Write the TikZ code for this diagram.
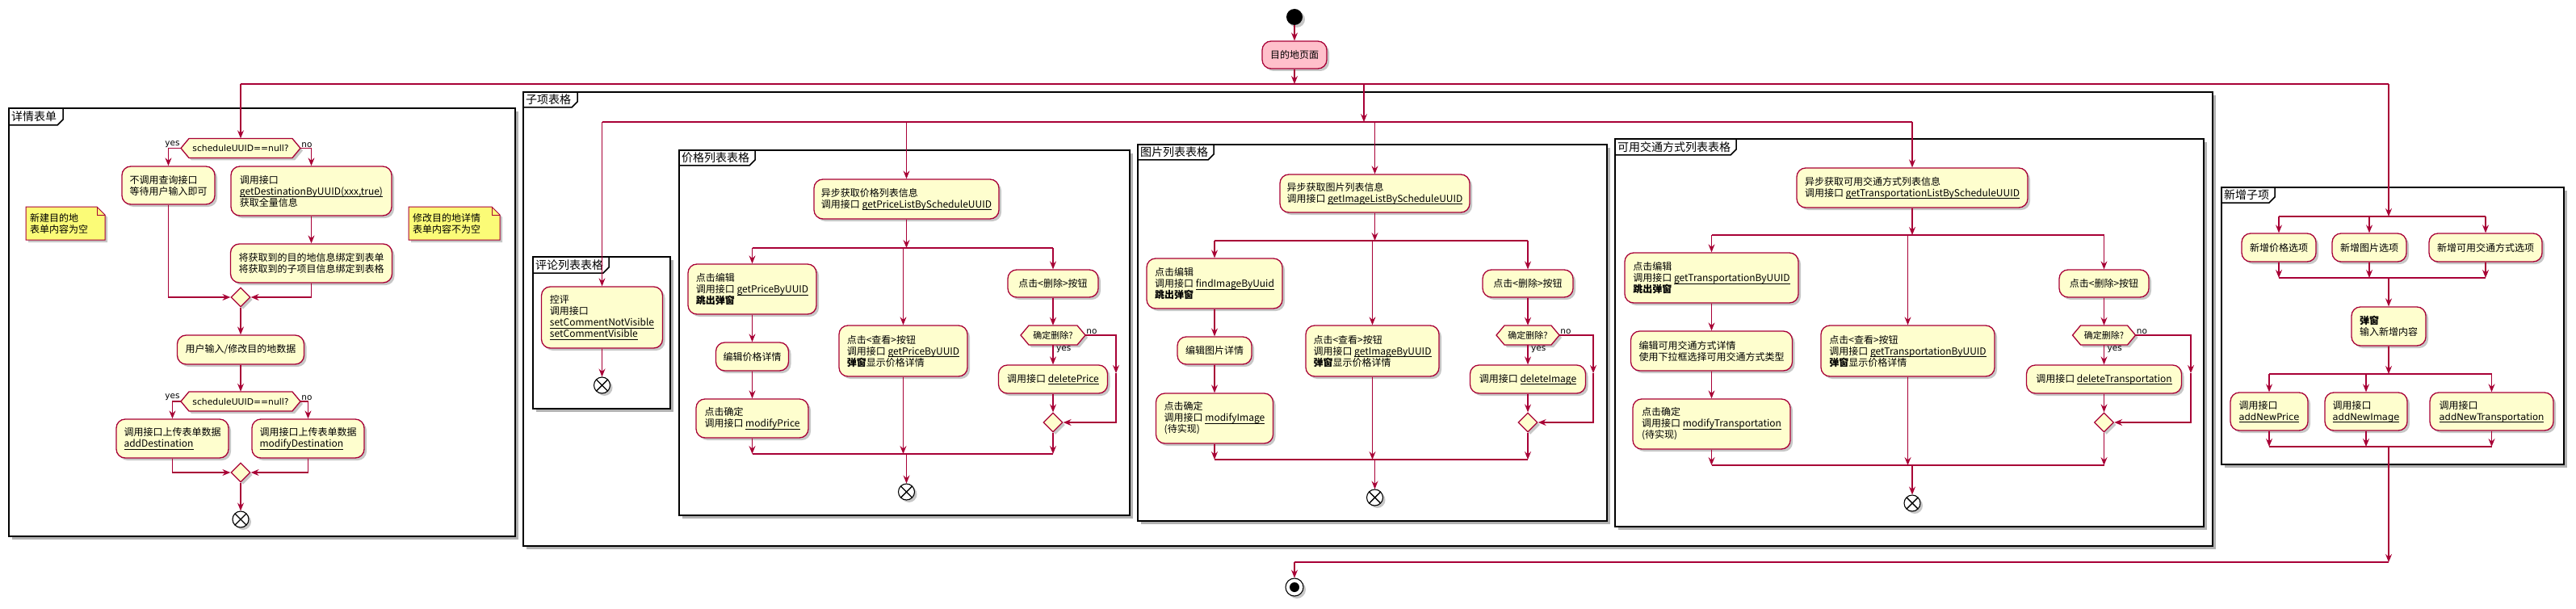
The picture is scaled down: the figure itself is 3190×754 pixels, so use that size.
\documentclass[tikz,border=0pt]{standalone}
\usepackage{fontspec}
\setmainfont{Noto Sans CJK SC}
\newfontfamily\dejavu{DejaVu Sans}
\usetikzlibrary{shapes.geometric,arrows.meta,shadows}
\definecolor{crim}{HTML}{A80036}
\definecolor{boxy}{HTML}{FEFECE}
\definecolor{pinkc}{HTML}{FFC0CB}
\definecolor{notey}{HTML}{FBFB77}
\newsavebox\udlbox
\newcommand\udl[1]{\sbox\udlbox{#1}\rlap{\rule[-3pt]{\wd\udlbox}{0.9pt}}\usebox\udlbox}
\newcommand\djv[1]{{\dejavu\fontsize{11.5}{14}\selectfont #1}}
\tikzset{
 shad/.style={drop shadow={shadow xshift=3pt,shadow yshift=-3pt,opacity=0.22,fill=black}},
 act/.style={draw=crim, fill=boxy, line width=1.3pt, rounded corners=11pt, align=left, inner sep=4pt, font=\fontsize{12}{14}\selectfont, shad},
 decshape/.style={draw=crim, fill=boxy, line width=1.3pt, shad},
 dectext/.style={inner sep=0pt, font=\fontsize{11}{13}\selectfont},
 mergeshape/.style={diamond, draw=crim, fill=boxy, line width=1.3pt, minimum width=24pt, minimum height=24pt, inner sep=0pt, shad},
 endx/.style={circle, draw=black, fill=white, line width=1.1pt, minimum size=20pt, inner sep=0pt, shad,
   path picture={\draw[line width=1.4pt] (path picture bounding box.north west) -- (path picture bounding box.south east) (path picture bounding box.north east) -- (path picture bounding box.south west);}},
 startc/.style={circle, fill=black, minimum size=20pt, inner sep=0pt, shad},
 finalc/.style={circle, draw=black, fill=white, line width=1.1pt, minimum size=22pt, inner sep=0pt, shad,
   path picture={\fill[black] (path picture bounding box.center) circle[radius=6pt];}},
 arr/.style={draw=crim, line width=1.2pt, -{Stealth[length=10pt,width=8pt,inset=3.5pt]}},
 flow/.style={draw=crim, line width=1.2pt},
 lbl/.style={font=\dejavu\fontsize{10.5}{12}\selectfont, inner sep=1pt},
 frameline/.style={draw=black, line width=1.5pt},
 framelabel/.style={font=\fontsize{14}{16}\selectfont, inner sep=0pt},
 noteshape/.style={draw=crim, fill=notey, line width=1pt, shad},
 notetext/.style={font=\fontsize{12}{14}\selectfont, align=left, inner sep=0pt}
}
\newcommand\actbox[6]{\node[act, minimum width=#4pt, minimum height=#5pt] (#1) at (#2,#3) {#6};}
\newcommand\decn[5]{%
 \draw[decshape] ({#2-#4},#3) -- ({#2-#4+10},{#3-12}) -- ({#2+#4-10},{#3-12}) -- ({#2+#4},#3) -- ({#2+#4-10},{#3+12}) -- ({#2-#4+10},{#3+12}) -- cycle;
 \node[dectext, minimum width={2*#4pt}, minimum height=24pt] (#1) at (#2,#3) {#5};}
\newcommand\frm[8]{%
 \fill[black!30] ({#2+4},{#3+4}) rectangle ({#4+4},{#5+4});
 \draw[frameline, fill=white] (#2,#3) rectangle (#4,#5);
 \draw[frameline] (#2,#7) -- ({#6-7},#7) -- (#6,{#7-7}) -- (#6,#3);
 \node[framelabel, anchor=west] (#1) at ({#2+3},{(#3+#7)/2}) {#8};}
\newcommand\notebox[6]{%
 \draw[noteshape] (#2,#3) -- ({#4-10},#3) -- (#4,{#3+10}) -- (#4,#5) -- (#2,#5) -- cycle;
 \draw[crim, line width=1pt] ({#4-10},#3) -- ({#4-10},{#3+10}) -- (#4,{#3+10});
 \node[notetext, anchor=west] (#1) at ({#2+5},{(#3+#5)/2}) {#6};}
\begin{document}
\begin{tikzpicture}[x=1pt,y=-1pt]
\useasboundingbox (0,0) rectangle (3190,754);
\fill[white] (0,0) rectangle (3190,754);
% ---------- frames ----------
\frm{fdet}{11}{134}{638}{664}{78}{155}{详情表单}
\frm{fsub}{648}{114}{2740}{676}{715}{133}{子项表格}
\frm{fcom}{660}{318}{830}{506}{754}{338}{评论列表表格}
\frm{fpri}{841}{186}{1399}{638}{935}{205}{价格列表表格}
\frm{fimg}{1409}{179}{1990}{645}{1503}{198}{图片列表表格}
\frm{ftra}{2000}{172}{2729}{652}{2150}{192}{可用交通方式列表表格}
\frm{fnew}{2751}{232}{3175}{575}{2817}{251}{新增子项}
% ---------- notes ----------
\notebox{note1}{32}{256}{130}{297}{新建目的地\\表单内容为空}
\notebox{note2}{506}{256}{619}{297}{修改目的地详情\\表单内容不为空}
% ---------- global ----------
\node[startc] (start) at (1603,21) {};
\node[act, fill=pinkc, minimum width=80pt, minimum height=34pt] (dest) at (1603,68) {目的地页面};
\coordinate (tbL) at (298,104);
\coordinate (tbR) at (2958,104);
\coordinate (tbM) at (1689,104);
\coordinate (sbM) at (1689,151);
\coordinate (sbL) at (745.5,151);
\coordinate (sbR) at (2368,151);
% ---------- detail form ----------
\decn{d1}{298}{183.5}{74}{{\dejavu\fontsize{10.8}{13}\selectfont scheduleUUID==null?}}
\actbox{A}{208.5}{229.5}{115}{47}{不调用查询接口\\等待用户输入即可}
\actbox{B}{385.5}{236.5}{199}{61}{调用接口\\\udl{getDestinationByUUID(xxx,true)}\\获取全量信息}
\actbox{C}{385.5}{326}{200}{48}{将获取到的目的地信息绑定到表单\\将获取到的子项目信息绑定到表格}
\node[mergeshape] (m1) at (298,368) {};
\actbox{D}{298}{433}{157}{36}{用户输入/修改目的地数据}
\decn{d2}{298}{497}{74}{{\dejavu\fontsize{10.8}{13}\selectfont scheduleUUID==null?}}
\actbox{E}{213.5}{543}{139}{48}{调用接口上传表单数据\\\udl{addDestination}}
\actbox{F}{381.5}{543}{139}{48}{调用接口上传表单数据\\\udl{modifyDestination}}
\node[mergeshape] (m2) at (298,585) {};
\node[endx] (end1) at (298,643) {};
% ---------- comments ----------
\actbox{c1}{745.5}{393}{150}{76}{控评\\调用接口\\\udl{setCommentNotVisible}\\\udl{setCommentVisible}}
\node[endx] (cend) at (745.5,477) {};
% ---------- price ----------
\actbox{p1}{1122.5}{246.5}{229}{49}{异步获取价格列表信息\\调用接口 \udl{getPriceListByScheduleUUID}}
\coordinate (pbL) at (931.5,307);
\coordinate (pbR) at (1304,307);
\actbox{p2}{931.5}{358}{159}{62}{点击编辑\\调用接口 \udl{getPriceByUUID}\\\textbf{跳出弹窗}}
\actbox{p3}{931.5}{441.5}{90}{35}{编辑价格详情}
\actbox{p4}{931.5}{518}{139}{48}{点击确定\\调用接口 \udl{modifyPrice}}
\actbox{p5}{1118.5}{434.5}{159}{63}{点击<查看>按钮\\调用接口 \udl{getPriceByUUID}\\\textbf{弹窗}显示价格详情}
\actbox{p6}{1304}{351}{112}{34}{点击<删除>按钮}
\decn{pd}{1304}{415}{40}{确定删除?}
\actbox{p7}{1304}{469.5}{135}{35}{调用接口 \udl{deletePrice}}
\node[mergeshape] (pm) at (1304,523) {};
\coordinate (pno) at (1382,462);
\coordinate (pjL) at (931.5,562);
\coordinate (pjR) at (1304,562);
\node[endx] (pend) at (1122.5,609) {};
% ---------- image ----------
\actbox{i1}{1702.5}{239.5}{235}{47}{异步获取图片列表信息\\调用接口 \udl{getImageListByScheduleUUID}}
\coordinate (ibL) at (1504,298);
\coordinate (ibR) at (1892,298);
\actbox{i2}{1504}{351}{168}{62}{点击编辑\\调用接口 \udl{findImageByUuid}\\\textbf{跳出弹窗}}
\actbox{i3}{1504}{434}{92}{34}{编辑图片详情}
\actbox{i4}{1504}{518}{145}{62}{点击确定\\调用接口 \udl{modifyImage}\\(待实现)}
\actbox{i5}{1699.5}{434.5}{165}{63}{点击<查看>按钮\\调用接口 \udl{getImageByUUID}\\\textbf{弹窗}显示价格详情}
\actbox{i6}{1892}{351}{112}{34}{点击<删除>按钮}
\decn{id}{1892}{415}{39}{确定删除?}
\actbox{i7}{1892}{469.5}{143}{35}{调用接口 \udl{deleteImage}}
\node[mergeshape] (im) at (1892,523) {};
\coordinate (ino) at (1973,462);
\coordinate (ijL) at (1504,569);
\coordinate (ijR) at (1892,569);
\node[endx] (iend) at (1702.5,616) {};
% ---------- transportation ----------
\actbox{t1}{2368}{232.5}{286}{49}{异步获取可用交通方式列表信息\\调用接口 \udl{getTransportationListByScheduleUUID}}
\coordinate (tfL) at (2119.5,291);
\coordinate (tfR) at (2605.5,291);
\actbox{t2}{2119.5}{344}{215}{62}{点击编辑\\调用接口 \udl{getTransportationByUUID}\\\textbf{跳出弹窗}}
\actbox{t3}{2119.5}{434.5}{200}{49}{编辑可用交通方式详情\\使用下拉框选择可用交通方式类型}
\actbox{t4}{2119.5}{525}{195}{62}{点击确定\\调用接口 \udl{modifyTransportation}\\(待实现)}
\actbox{t5}{2362.5}{434.5}{215}{63}{点击<查看>按钮\\调用接口 \udl{getTransportationByUUID}\\\textbf{弹窗}显示价格详情}
\actbox{t6}{2605.5}{351}{111}{34}{点击<删除>按钮}
\decn{td}{2605.5}{415}{39}{确定删除?}
\actbox{t7}{2605.5}{469.5}{192}{35}{调用接口 \udl{deleteTransportation}}
\node[mergeshape] (tm) at (2605.5,523) {};
\coordinate (tno) at (2713,462);
\coordinate (tjL) at (2119.5,576);
\coordinate (tjR) at (2605.5,576);
\node[endx] (tend) at (2368,623) {};
% ---------- new items ----------
\coordinate (nbM) at (2958,268);
\coordinate (nbL) at (2822,268);
\coordinate (nbR) at (3078,268);
\actbox{n1}{2822}{306.5}{92}{35}{新增价格选项}
\actbox{n2}{2934}{306.5}{92}{35}{新增图片选项}
\actbox{n3}{3078}{306.5}{140}{35}{新增可用交通方式选项}
\coordinate (njL) at (2822,344);
\coordinate (njR) at (3078,344);
\coordinate (njM) at (2958,344);
\actbox{n4}{2958}{404}{92}{48}{\textbf{弹窗}\\输入新增内容}
\coordinate (nfL) at (2810,463);
\coordinate (nfR) at (3085.5,463);
\coordinate (nfM) at (2958,463);
\actbox{n5}{2810}{509.5}{96}{47}{调用接口\\\djv{\udl{addNewPrice}}}
\actbox{n6}{2930}{509.5}{102}{47}{调用接口\\\djv{\udl{addNewImage}}}
\actbox{n7}{3085.5}{509.5}{153}{47}{调用接口\\\djv{\udl{addNewTransportation}}}
\coordinate (nkL) at (2810,553);
\coordinate (nkR) at (3085.5,553);
\coordinate (nkM) at (2958,553);
\coordinate (btR) at (2958,696);
\coordinate (btL) at (1603,696);
\node[finalc] (final) at (1603,727) {};
% ========== connectors ==========
\draw[arr] (start) -- (dest);
\draw[arr] (dest.south) -- (dest.south |- tbL);
\draw[flow] (tbL) -- (tbR);
\draw[arr] (tbL) -- (d1.north);
\draw[arr] (tbM) -- (sbM);
\draw[arr] (tbR) -- (nbM);
% detail
\draw[arr] (d1.west) -| (A.north);
\node[lbl, anchor=south east] (d1yes) at (d1.west) {yes};
\draw[arr] (d1.east) -| (B.north);
\node[lbl, anchor=south west] (d1no) at (d1.east) {no};
\draw[arr] (B.south) -- (C.north);
\draw[arr] (A.south) |- (m1.west);
\draw[arr] (C.south) |- (m1.east);
\draw[arr] (m1.south) -- (D.north);
\draw[arr] (D.south) -- (d2.north);
\draw[arr] (d2.west) -| (E.north);
\node[lbl, anchor=south east] (d2yes) at (d2.west) {yes};
\draw[arr] (d2.east) -| (F.north);
\node[lbl, anchor=south west] (d2no) at (d2.east) {no};
\draw[arr] (E.south) |- (m2.west);
\draw[arr] (F.south) |- (m2.east);
\draw[arr] (m2.south) -- (end1.north);
% sub table bar
\draw[flow] (sbL) -- (sbR);
\draw[arr] (sbL) -- (c1.north);
\draw[arr] (p1.north |- sbL) -- (p1.north);
\draw[arr] (i1.north |- sbL) -- (i1.north);
\draw[arr] (sbR) -- (t1.north);
% comments
\draw[arr] (c1.south) -- (cend.north);
% price
\draw[arr] (p1.south) -- (p1.south |- pbL);
\draw[flow] (pbL) -- (pbR);
\draw[arr] (pbL) -- (p2.north);
\draw[arr] (p5.north |- pbL) -- (p5.north);
\draw[arr] (pbR) -- (p6.north);
\draw[arr] (p2.south) -- (p3.north);
\draw[arr] (p3.south) -- (p4.north);
\draw[arr] (p6.south) -- (pd.north);
\draw[arr] (pd.south) -- (p7.north);
\node[lbl, anchor=north west] (pdyes) at ([xshift=3pt]pd.south) {yes};
\draw[arr] (pd.east) -| (pno);
\draw[arr] (pno) |- (pm.east);
\node[lbl, anchor=south west] (pdno) at (pd.east) {no};
\draw[arr] (p7.south) -- (pm.north);
\draw[arr] (p4.south) -- (pjL);
\draw[arr] (p5.south) -- (p5.south |- pjL);
\draw[arr] (pm.south) -- (pjR);
\draw[flow] (pjL) -- (pjR);
\draw[arr] (pend.north |- pjL) -- (pend.north);
% image
\draw[arr] (i1.south) -- (i1.south |- ibL);
\draw[flow] (ibL) -- (ibR);
\draw[arr] (ibL) -- (i2.north);
\draw[arr] (i5.north |- ibL) -- (i5.north);
\draw[arr] (ibR) -- (i6.north);
\draw[arr] (i2.south) -- (i3.north);
\draw[arr] (i3.south) -- (i4.north);
\draw[arr] (i6.south) -- (id.north);
\draw[arr] (id.south) -- (i7.north);
\node[lbl, anchor=north west] (idyes) at ([xshift=3pt]id.south) {yes};
\draw[arr] (id.east) -| (ino);
\draw[arr] (ino) |- (im.east);
\node[lbl, anchor=south west] (idno) at (id.east) {no};
\draw[arr] (i7.south) -- (im.north);
\draw[arr] (i4.south) -- (ijL);
\draw[arr] (i5.south) -- (i5.south |- ijL);
\draw[arr] (im.south) -- (ijR);
\draw[flow] (ijL) -- (ijR);
\draw[arr] (iend.north |- ijL) -- (iend.north);
% transportation
\draw[arr] (t1.south) -- (t1.south |- tfL);
\draw[flow] (tfL) -- (tfR);
\draw[arr] (tfL) -- (t2.north);
\draw[arr] (t5.north |- tfL) -- (t5.north);
\draw[arr] (tfR) -- (t6.north);
\draw[arr] (t2.south) -- (t3.north);
\draw[arr] (t3.south) -- (t4.north);
\draw[arr] (t6.south) -- (td.north);
\draw[arr] (td.south) -- (t7.north);
\node[lbl, anchor=north west] (tdyes) at ([xshift=3pt]td.south) {yes};
\draw[arr] (td.east) -| (tno);
\draw[arr] (tno) |- (tm.east);
\node[lbl, anchor=south west] (tdno) at (td.east) {no};
\draw[arr] (t7.south) -- (tm.north);
\draw[arr] (t4.south) -- (tjL);
\draw[arr] (t5.south) -- (t5.south |- tjL);
\draw[arr] (tm.south) -- (tjR);
\draw[flow] (tjL) -- (tjR);
\draw[arr] (tend.north |- tjL) -- (tend.north);
% new items
\draw[flow] (nbL) -- (nbR);
\draw[arr] (nbL) -- (n1.north);
\draw[arr] (n2.north |- nbL) -- (n2.north);
\draw[arr] (nbR) -- (n3.north);
\draw[arr] (n1.south) -- (njL);
\draw[arr] (n2.south) -- (n2.south |- njL);
\draw[arr] (n3.south) -- (njR);
\draw[flow] (njL) -- (njR);
\draw[arr] (njM) -- (n4.north);
\draw[arr] (n4.south) -- (nfM);
\draw[flow] (nfL) -- (nfR);
\draw[arr] (nfL) -- (n5.north);
\draw[arr] (n6.north |- nfL) -- (n6.north);
\draw[arr] (nfR) -- (n7.north);
\draw[arr] (n5.south) -- (nkL);
\draw[arr] (n6.south) -- (n6.south |- nkL);
\draw[arr] (n7.south) -- (nkR);
\draw[flow] (nkL) -- (nkR);
\draw[arr] (nkM) -- (btR);
\draw[flow] (btL) -- (btR);
\draw[arr] (btL) -- (final.north);
\end{tikzpicture}
\end{document}
